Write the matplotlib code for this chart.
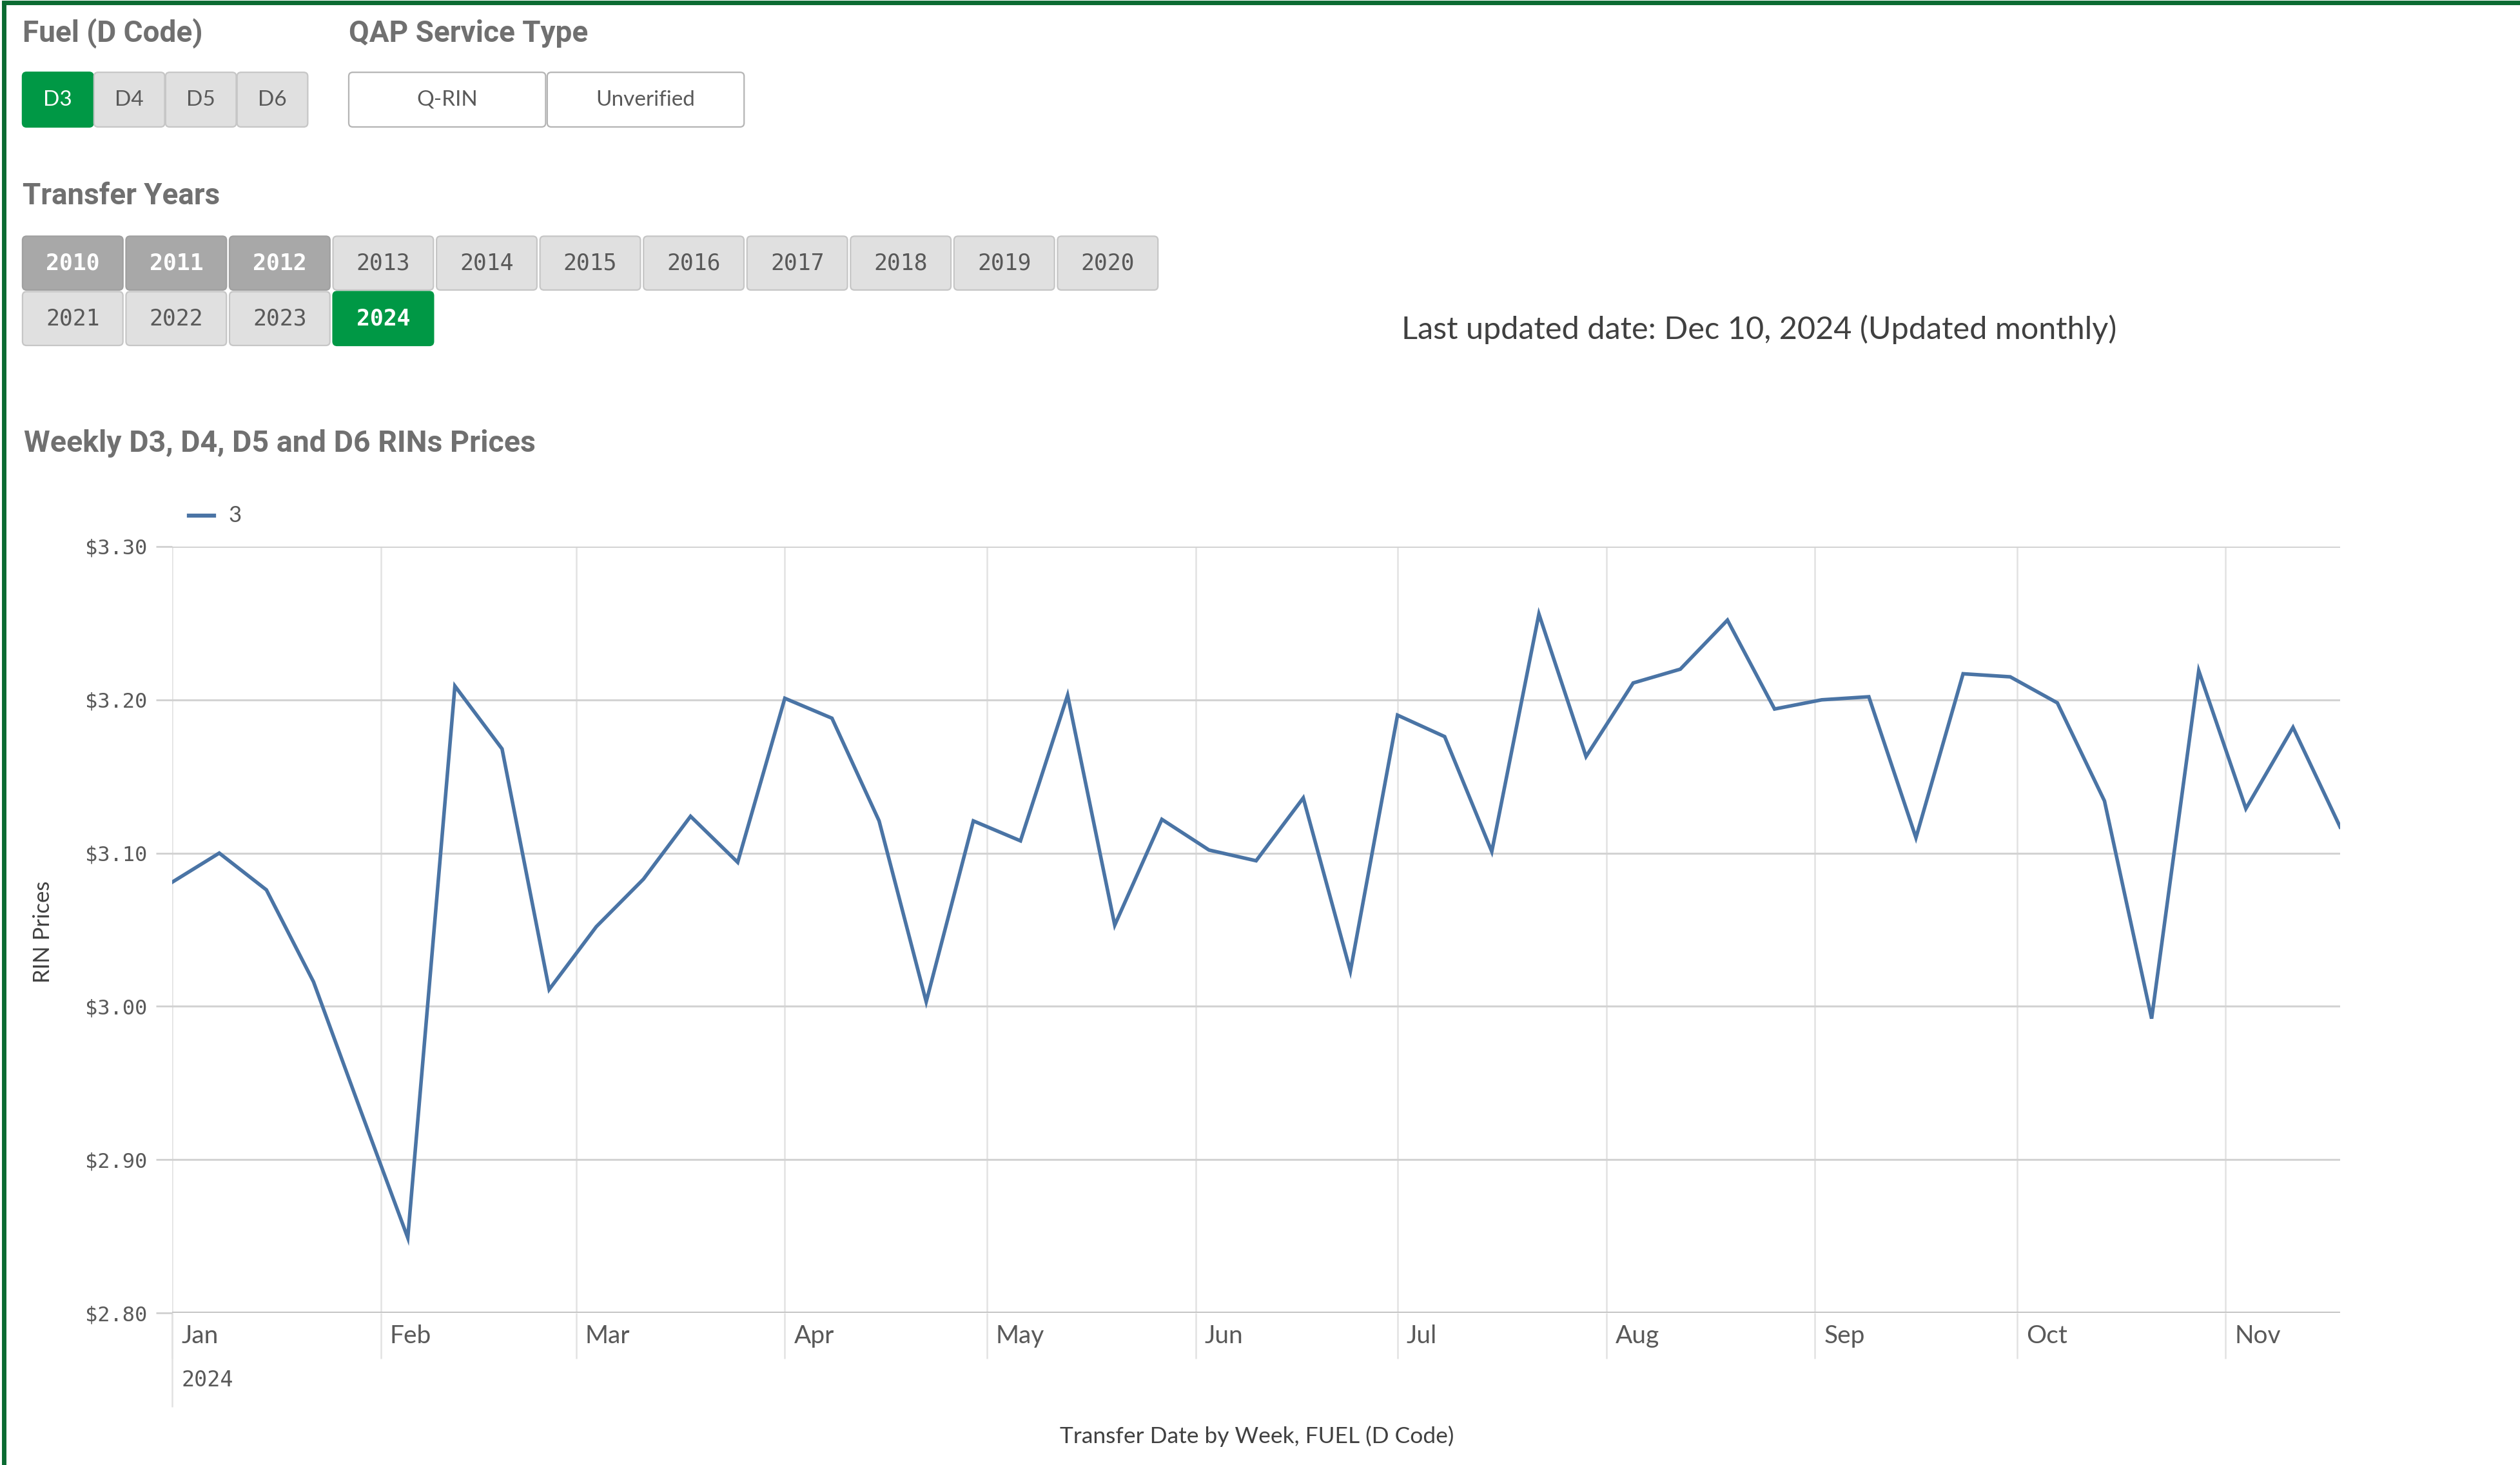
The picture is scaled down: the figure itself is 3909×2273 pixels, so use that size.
import matplotlib
matplotlib.use("Agg")
import matplotlib.pyplot as plt
from matplotlib.patches import FancyBboxPatch
from matplotlib.lines import Line2D
from matplotlib.transforms import Affine2D
import pandas as pd

# ---------------- data ----------------
series_name = "3"
start_week = "2024-01-01"
prices = [3.081, 3.100, 3.076, 3.016, 2.932, 2.849, 3.209, 3.168, 3.011, 3.052,
          3.083, 3.124, 3.094, 3.201, 3.188, 3.121, 3.003, 3.121, 3.108, 3.203,
          3.053, 3.122, 3.102, 3.095, 3.136, 3.023, 3.190, 3.176, 3.101, 3.256,
          3.163, 3.211, 3.220, 3.252, 3.194, 3.200, 3.202, 3.110, 3.217, 3.215,
          3.198, 3.134, 2.992, 3.219, 3.129, 3.182, 3.117]
y_ticks = [2.80, 2.90, 3.00, 3.10, 3.20, 3.30]
month_labels = ["Jan", "Feb", "Mar", "Apr", "May", "Jun", "Jul", "Aug", "Sep", "Oct", "Nov"]
fuel_codes = ["D3", "D4", "D5", "D6"]
qap_types = ["Q-RIN", "Unverified"]
years_row1 = ["2010", "2011", "2012", "2013", "2014", "2015", "2016", "2017", "2018", "2019", "2020"]
years_row2 = ["2021", "2022", "2023", "2024"]
excluded_years = ["2010", "2011", "2012"]
selected_year = "2024"
selected_fuel = "D3"

dates = pd.date_range(start_week, periods=len(prices), freq="7D")

# ---------------- style ----------------
W, H = 3909, 2273
S = W / 1568.0
NARROW = ["Lato", "DejaVu Sans"]
BOLD = ["Roboto", "DejaVu Sans"]
MONO = ["DejaVu Sans Mono"]
GREEN = "#009845"
BORDER_GREEN = "#0b6b32"
HEAD_C = "#707070"
TXT_C = "#595959"
LINE_C = "#4a74a5"

fig = plt.figure(figsize=(W / 100, H / 100), dpi=100)
fig.patch.set_facecolor("white")
T = Affine2D().scale(S, -S).translate(0, H)  # overview coords (y down) -> display px


def txt(x, y, s, size, color=TXT_C, weight="normal", family=NARROW, ha="left", va="center", **kw):
    fig.text(x, y, s, transform=T, fontsize=size, color=color, fontweight=weight,
             family=family, ha=ha, va=va, **kw)


def button(x0, y0, w, h, label, fc, ec, tc, family=NARROW, size=20, weight="normal"):
    p = FancyBboxPatch((x0, y0), w, h, boxstyle="round,pad=0,rounding_size=2.5",
                       transform=T, facecolor=fc, edgecolor=ec, linewidth=1.6)
    fig.add_artist(p)
    txt(x0 + w / 2, y0 + h / 2, label, size, color=tc, family=family, ha="center", weight=weight)


# border
fig.add_artist(Line2D([2.3, 2.3], [2.6, 912], transform=T, color=BORDER_GREEN, lw=5))
fig.add_artist(Line2D([2.3, 1568], [1.6, 1.6], transform=T, color=BORDER_GREEN, lw=5))

# headings
txt(14, 21, "Fuel (D Code)", 33, color=HEAD_C, weight="bold", family=BOLD)
txt(217, 21, "QAP Service Type", 33, color=HEAD_C, weight="bold", family=BOLD)
txt(14, 122, "Transfer Years", 33, color=HEAD_C, weight="bold", family=BOLD)
txt(15, 276, "Weekly D3, D4, D5 and D6 RINs Prices", 33.5, color=HEAD_C, weight="bold", family=BOLD)

# fuel buttons
fx = [14, 58.5, 103, 147.5]
for code, x0 in zip(fuel_codes, fx):
    if code == selected_fuel:
        button(x0, 45, 44, 34, code, GREEN, GREEN, "white", size=24)
    else:
        button(x0, 45, 44, 34, code, "#e0e0e0", "#c6c6c6", TXT_C, size=24)

# QAP buttons
for i, q in enumerate(qap_types):
    button(217 + i * 123.5, 45, 122.5, 34, q, "white", "#b4b4b4", TXT_C, size=24)

# year buttons
step = 64.4
for i, yr in enumerate(years_row1 + years_row2):
    row = 0 if i < len(years_row1) else 1
    col = i if row == 0 else i - len(years_row1)
    x0 = 14 + col * step
    y0 = 147 if row == 0 else 181.5
    if yr == selected_year:
        fc, ec, tc, wt = GREEN, GREEN, "white", "bold"
    elif yr in excluded_years:
        fc, ec, tc, wt = "#a8a8a8", "#a0a0a0", "white", "bold"
    else:
        fc, ec, tc, wt = "#e0e0e0", "#c6c6c6", TXT_C, "normal"
    button(x0, y0, 62.5, 33.5, yr, fc, ec, tc, family=MONO, size=25, weight=wt)

# last updated text
txt(872, 205, "Last updated date: Dec 10, 2024 (Updated monthly)", 35, color="#404040")

# ---------------- chart ----------------
left, right = 267 / W, 3630 / W
bottom, top = 1 - 2037 / H, 1 - 848 / H
ax = fig.add_axes([left, bottom, right - left, top - bottom])
ax.plot(dates, prices, color=LINE_C, lw=4.0, solid_joinstyle="miter", zorder=3)

ax.set_xlim(pd.Timestamp("2024-01-01"), dates[-1])
ax.set_ylim(y_ticks[0], y_ticks[-1])
for sp in ax.spines.values():
    sp.set_visible(False)

ax.set_yticks(y_ticks)
ax.set_yticklabels([f"${v:.2f}" for v in y_ticks], family=MONO, fontsize=23, color=TXT_C)
ax.tick_params(axis="y", length=18, width=2, color="#d0d0d0", pad=10)
ax.grid(axis="y", color="#d3d3d3", lw=2.2, zorder=1)
ax.axhline(y_ticks[0], color="#c4c4c4", lw=3.5, zorder=2)

month_starts = pd.date_range("2024-01-01", periods=len(month_labels), freq="MS")
ax.set_xticks(month_starts)
ax.set_xticklabels(month_labels, fontsize=28, color=TXT_C, family=NARROW, ha="left")
ax.tick_params(axis="x", length=51, width=1.8, color="#e2e2e2", pad=-38)
for lab in ax.get_xticklabels():
    lab.set_transform(lab.get_transform() + Affine2D().translate(14, 0))
ax.grid(axis="x", color="#e2e2e2", lw=1.8, zorder=1)
ax.set_axisbelow(True)

# longer line for the year row
ax.xaxis.remove_overlapping_locs = False
ax.set_xticks([month_starts[0]], minor=True)
ax.tick_params(axis="x", which="minor", length=105, width=1.8, color="#e2e2e2")

txt(113, 859, "2024", 24, family=MONO)
txt(782, 894, "Transfer Date by Week, FUEL (D Code)", 25.5, color="#404040", ha="center")
txt(27, 580, "RIN Prices", 25, color="#404040", ha="center", rotation=90)

# legend
fig.add_artist(Line2D([117.5, 133], [320.8, 320.8], transform=T, color=LINE_C, lw=4.5))
txt(142, 321, series_name, 25)

fig.savefig("out.png", dpi=100, facecolor="white")
